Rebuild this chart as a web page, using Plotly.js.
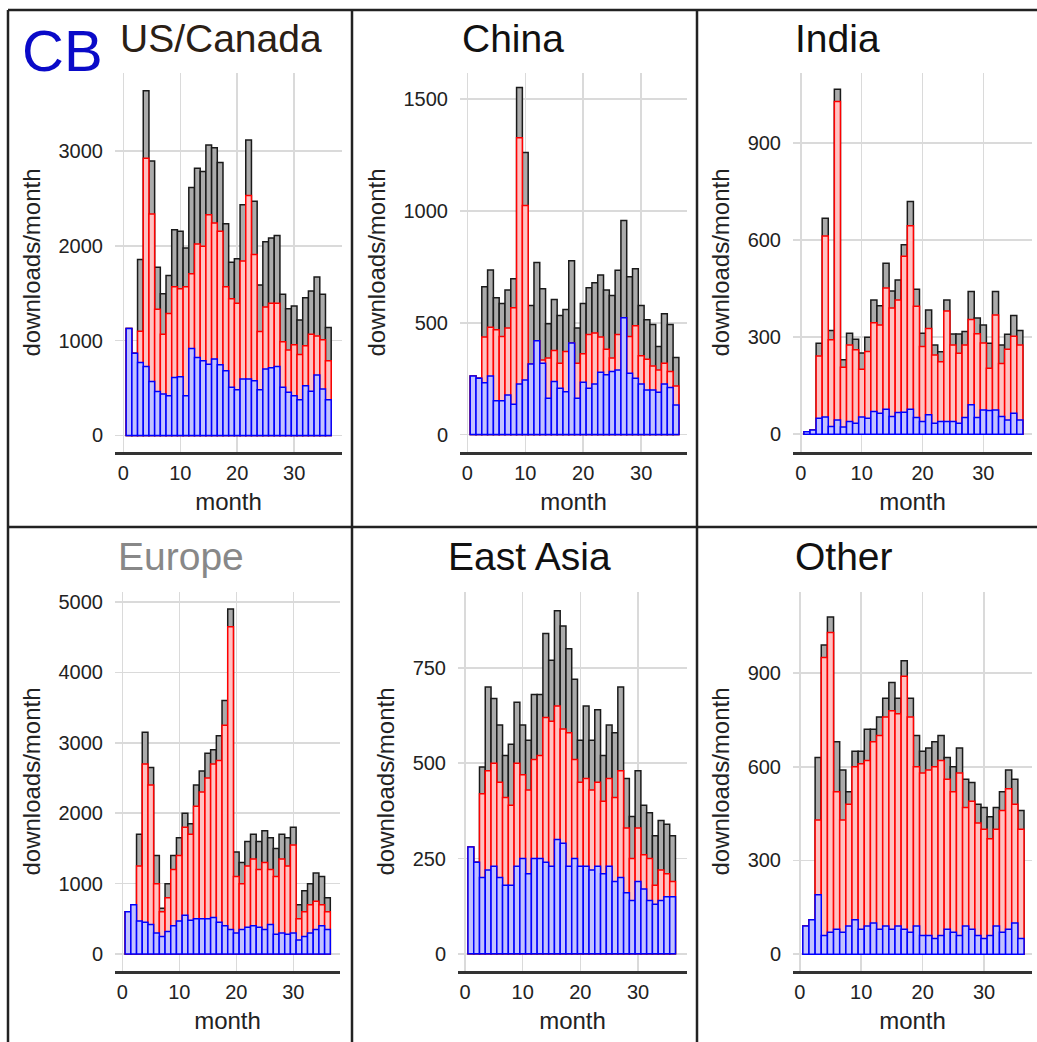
<!DOCTYPE html>
<html>
<head>
<meta charset="utf-8">
<script src="https://cdn.plot.ly/plotly-3.0.1.min.js"></script>
<style>
  html, body { margin: 0; padding: 0; background: #fff; }
  #chart { width: 1037px; height: 1042px; }
</style>
</head>
<body>
<div id="chart"></div>
<script>
// ---- data (heights; cumulative: blue <= red <= total) ----
const months = [1,2,3,4,5,6,7,8,9,10,11,12,13,14,15,16,17,18,19,20,21,22,23,24,25,26,27,28,29,30,31,32,33,34,35,36];

const regions = ["US/Canada", "China", "India", "Europe", "East Asia", "Other"];

const usBlue  = [1127,868,770,728,570,465,437,420,612,620,420,917,822,787,752,805,745,682,508,483,595,595,578,483,700,714,728,508,455,420,378,525,466,637,490,378];
const usRed   = [1127,868,1100,2922,2334,1330,1067,1285,1568,1547,1568,1704,2019,1995,2327,2240,2152,1568,1442,1393,1838,2531,1908,1096,1355,1393,1393,987,900,956,854,945,1068,1050,1008,788];
const usTotal = [1127,868,1855,3633,2894,1774,1494,1687,2170,2152,1977,2614,2817,2782,3062,3034,2877,2233,1827,1862,2433,3115,2468,1586,2041,2083,2107,1488,1337,1365,1218,1453,1523,1670,1488,1138];

const cnBlue  = [262,252,232,262,151,151,177,136,226,244,316,420,319,162,237,207,192,409,162,234,207,226,279,267,282,289,522,274,252,226,199,199,189,226,211,132];
const cnRed   = [262,252,436,480,469,439,477,567,1327,1024,316,420,334,342,376,319,372,409,319,361,447,454,436,382,342,447,522,439,487,352,337,307,289,319,282,217];
const cnTotal = [262,252,661,736,612,586,646,697,1552,1261,577,769,652,496,604,532,559,777,477,586,657,679,714,646,622,735,957,706,742,577,514,492,394,540,492,345];

const inBlue  = [8,13,49,53,24,44,22,39,34,53,49,70,65,77,55,67,68,77,52,39,60,34,39,39,39,34,52,91,52,75,73,75,55,44,65,44];
const inRed   = [8,13,242,613,292,1029,207,276,261,201,256,345,338,452,390,415,550,645,396,271,327,245,224,381,276,250,276,355,311,282,204,369,219,263,303,276];
const inTotal = [8,13,281,668,321,1067,230,312,294,251,300,415,397,529,443,477,586,720,448,312,384,276,255,415,310,310,318,441,359,338,281,441,276,309,367,321];

const euBlue  = [600,700,470,450,420,300,250,320,400,470,550,480,500,500,500,520,450,400,350,300,350,380,400,380,350,420,280,300,280,300,200,250,300,350,400,350];
const euRed   = [600,700,1250,2700,2400,1000,600,800,1200,1400,1800,1700,2100,2300,2500,2700,2750,3250,4650,1100,1000,1250,1350,1200,1300,1200,1100,1350,1250,1550,500,600,700,750,700,600];
const euTotal = [600,700,1700,3150,2650,1400,650,1000,1400,1650,2000,1850,2400,2600,2850,2900,3100,3600,4900,1450,1300,1600,1700,1600,1750,1650,1500,1700,1650,1800,700,900,1000,1150,1100,800];

const eaBlue  = [280,240,200,220,230,200,180,180,230,250,210,250,250,240,230,300,290,230,250,230,230,220,230,210,230,190,200,160,140,190,170,140,130,140,150,150];
const eaRed   = [280,240,420,480,500,450,410,390,500,470,430,510,520,620,610,650,590,580,510,450,460,430,450,400,460,410,480,330,250,330,260,250,180,220,210,190];
const eaTotal = [280,240,490,700,670,600,520,550,660,600,560,680,680,840,770,900,860,800,720,560,650,560,640,520,600,580,700,460,360,480,390,370,310,350,340,310];

const otBlue  = [90,110,190,60,70,80,70,90,110,80,90,100,80,90,80,90,80,70,90,60,60,50,60,80,70,60,90,80,60,50,60,90,70,80,100,50];
const otRed   = [90,110,430,950,1030,520,430,480,600,610,620,680,700,760,780,770,890,760,600,580,590,600,620,560,520,580,470,490,420,400,370,400,460,530,480,400];
const otTotal = [90,110,630,990,1080,680,590,520,650,650,720,720,760,820,870,820,940,820,700,650,660,680,700,630,600,660,560,550,480,470,440,470,520,590,560,460];

const yTicks = [
  [0,1000,2000,3000],
  [0,500,1000,1500],
  [0,300,600,900],
  [0,1000,2000,3000,4000,5000],
  [0,250,500,750],
  [0,300,600,900]
];
const monthTicks = [0,10,20,30];

// ---- layout geometry (pixels) ----
const W = 1037, H = 1042;
const panels = [
  {blue: usBlue, red: usRed, total: usTotal, px: [115,342], py: [73,452], xr: [-1.46,38.4], yr: [-174,3821], title: {x:118, y:38, color:'#2b2015'}},
  {blue: cnBlue, red: cnRed, total: cnTotal, px: [460,687], py: [73,452], xr: [-1.26,37.9], yr: [-78,1617], title: {x:460, y:38, color:'#111'}},
  {blue: inBlue, red: inRed, total: inTotal, px: [793,1032], py: [73,452], xr: [-1.3,38.0], yr: [-55,1117], title: {x:793, y:38, color:'#111'}},
  {blue: euBlue, red: euRed, total: euTotal, px: [115,340], py: [592,971], xr: [-1.28,38.2], yr: [-241,5142], title: {x:116, y:556, color:'#888'}},
  {blue: eaBlue, red: eaRed, total: eaTotal, px: [458,687], py: [592,971], xr: [-1.23,38.5], yr: [-45,949], title: {x:446, y:556, color:'#111'}},
  {blue: otBlue, red: otRed, total: otTotal, px: [793,1032], py: [592,971], xr: [-1.1,37.8], yr: [-54,1160], title: {x:793, y:556, color:'#111'}}
];

const FONT = '"Liberation Sans", Arial, Helvetica, sans-serif';
const data = [];
const layout = {
  width: W, height: H,
  margin: {l:0, r:0, t:0, b:0},
  paper_bgcolor: '#fff', plot_bgcolor: '#fff',
  showlegend: false,
  barmode: 'overlay', bargap: 0,
  font: {family: FONT, color: '#222'},
  annotations: [],
  shapes: []
};

panels.forEach((p, i) => {
  const n = i === 0 ? '' : String(i + 1);
  const xa = 'x' + n, ya = 'y' + n;
  const series = [
    {y: p.total, fill: '#ababab', line: '#1a1a1a', name: 'total'},
    {y: p.red,   fill: '#ffc2c2', line: '#ff0000', name: 'red'},
    {y: p.blue,  fill: '#c2c2ff', line: '#0000ff', name: 'blue'}
  ];
  series.forEach(s => {
    data.push({
      type: 'bar', x: months, y: s.y, width: 1, name: regions[i] + ' ' + s.name,
      xaxis: xa, yaxis: ya,
      marker: {color: s.fill, line: {color: s.line, width: 1.5}},
      hoverinfo: 'x+y'
    });
  });
  layout['xaxis' + n] = {
    domain: [p.px[0] / W, p.px[1] / W],
    anchor: ya, range: p.xr, tickvals: monthTicks,
    showgrid: true, gridcolor: '#dadada', gridwidth: 1.5, zeroline: false,
    showline: true, linecolor: '#333', linewidth: 2.5,
    ticks: '', ticklabelstandoff: 1,
    tickfont: {size: 20, color: '#222', family: FONT},
    title: {text: 'month', font: {size: 24, color: '#222', family: FONT}, standoff: 11},
    fixedrange: true
  };
  layout['yaxis' + n] = {
    domain: [1 - p.py[1] / H, 1 - p.py[0] / H],
    anchor: xa, range: p.yr, tickvals: yTicks[i],
    showgrid: true, gridcolor: '#dadada', gridwidth: 1.5, zeroline: false,
    showline: false, ticks: '', ticklabelstandoff: 11,
    tickfont: {size: 20, color: '#222', family: FONT},
    title: {text: 'downloads/month', font: {size: 24, color: '#222', family: FONT}, standoff: 11},
    fixedrange: true
  };
  layout.annotations.push({
    xref: 'paper', yref: 'paper', x: p.title.x / W, y: 1 - p.title.y / H,
    xanchor: 'left', yanchor: 'middle', showarrow: false,
    text: regions[i], font: {size: 39, color: p.title.color, family: FONT}
  });
});

layout.annotations.push({
  xref: 'paper', yref: 'paper', x: 20 / W, y: 1 - 50 / H,
  xanchor: 'left', yanchor: 'middle', showarrow: false,
  text: 'CB', font: {size: 58, color: '#0a0ac8', family: FONT}
});

// panel frame lines
const frame = [
  [8, 10, 1037, 10], [8, 10, 8, 1042],
  [352, 10, 352, 1042], [697, 10, 697, 1042],
  [8, 527, 1037, 527]
];
frame.forEach(f => {
  layout.shapes.push({
    type: 'line', xref: 'paper', yref: 'paper',
    x0: f[0] / W, y0: 1 - f[1] / H, x1: f[2] / W, y1: 1 - f[3] / H,
    line: {color: '#222', width: 2.5}
  });
});

Plotly.newPlot('chart', data, layout, {displayModeBar: false, staticPlot: true});
</script>
</body>
</html>
